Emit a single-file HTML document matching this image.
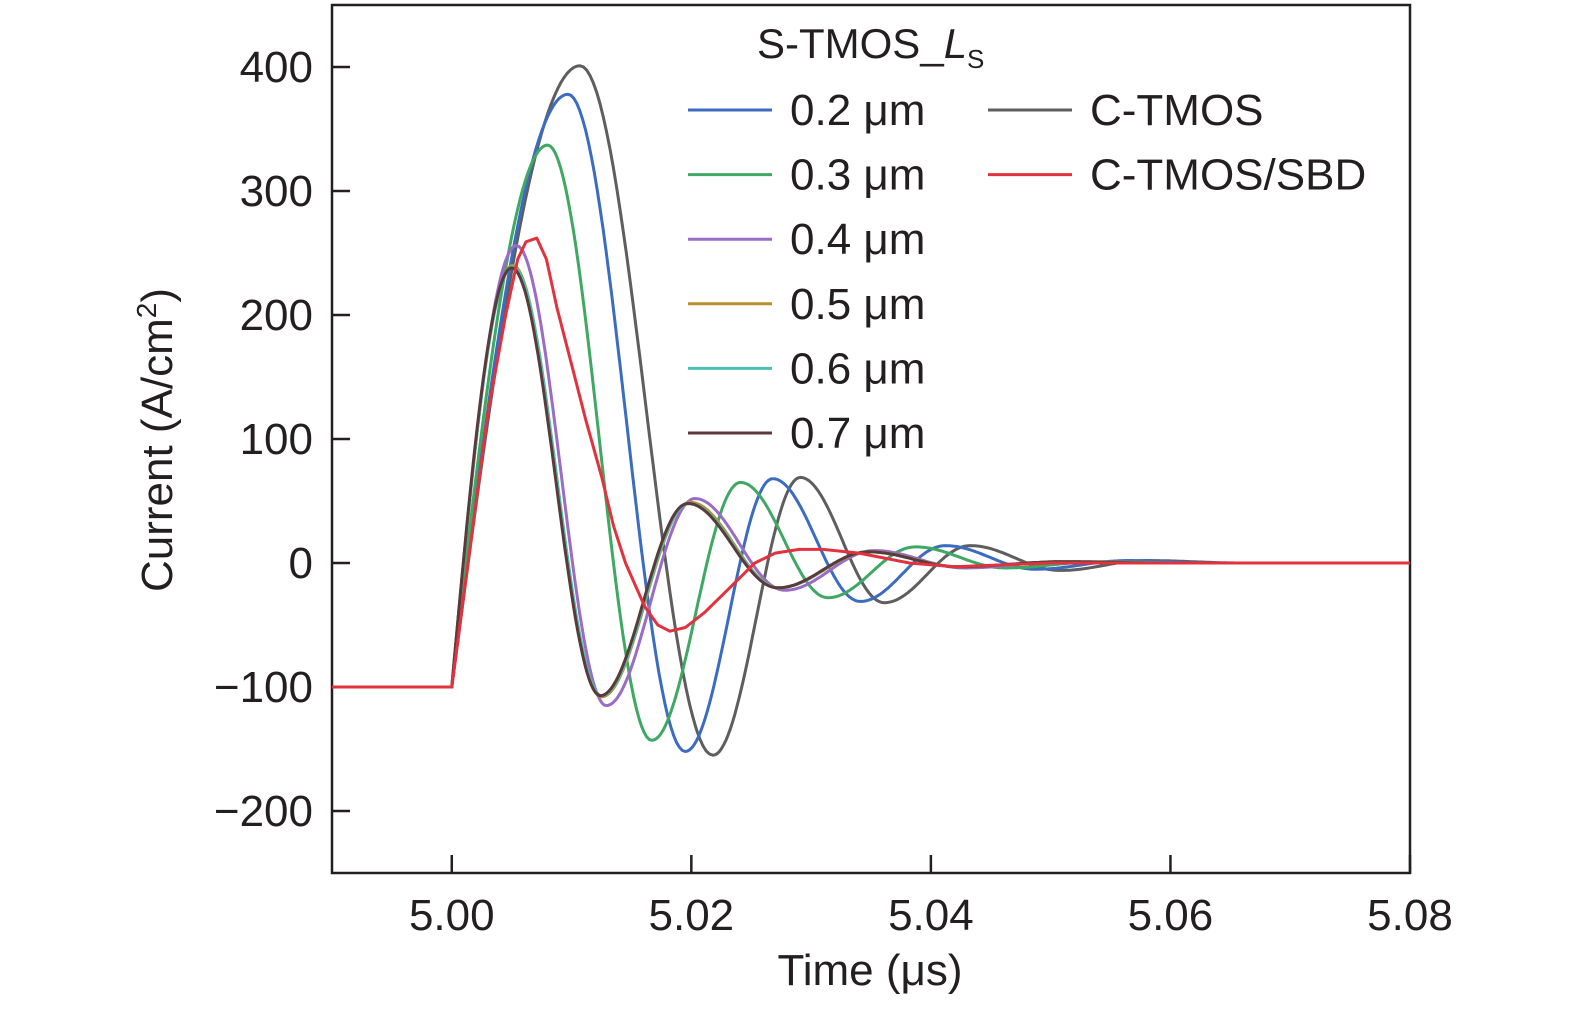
<!DOCTYPE html>
<html><head><meta charset="utf-8"><style>
body{margin:0;background:#fff}
svg text{font-family:"Liberation Sans",sans-serif;fill:#231f20}
</style></head><body>
<svg id="chart" width="1575" height="1012" xmlns="http://www.w3.org/2000/svg">
<rect x="332" y="5" width="1078" height="868" fill="none" stroke="#231f20" stroke-width="2.5"/>
<g id="ticks"></g>
<g id="series"></g>
<text x="870" y="985" font-size="44" text-anchor="middle">Time (μs)</text>
<text transform="translate(172,440) rotate(-90)" font-size="44" text-anchor="middle">Current (A/cm<tspan font-size="28" dy="-16">2</tspan><tspan dy="16">)</tspan></text>
<text x="757" y="58" font-size="42">S-TMOS_<tspan font-style="italic">L</tspan><tspan font-size="26" dy="10">S</tspan></text>
<g id="legend"></g>
</svg>
<script>
const xTicks=[5.00,5.02,5.04,5.06,5.08];
const yTicks=[400,300,200,100,0,-100,-200];
const seriesNames=["0.2 μm","0.3 μm","0.4 μm","0.5 μm","0.6 μm","0.7 μm","C-TMOS","C-TMOS/SBD"];
const seriesColors=["#3b6cc0","#3fa862","#9a6cc6","#b8902a","#4bbfb0","#5a3a3a","#5e5e5e","#e2323e"];
// extrema [t, value] per series (smooth curves)
const s02=[[5.0097,378],[5.0195,-152],[5.0268,68],[5.0341,-31],[5.0412,14],[5.0487,-5],[5.0565,2],[5.064,0]];
const s03=[[5.0080,337],[5.0167,-143],[5.0241,65],[5.0314,-28],[5.0387,13],[5.0462,-4],[5.054,1],[5.062,0]];
const s04=[[5.0054,256],[5.0129,-115],[5.0203,52],[5.0278,-22],[5.0353,10],[5.0428,-4],[5.051,1],[5.06,0]];
const s05=[[5.0051,240],[5.0125,-108],[5.0199,49],[5.0273,-20],[5.0349,9],[5.0424,-3],[5.051,1],[5.06,0]];
const s06=[[5.0051,239],[5.0125,-107],[5.0198,48],[5.0273,-20],[5.0348,9],[5.0423,-3],[5.051,1],[5.06,0]];
const s07=[[5.0050,238],[5.0124,-107],[5.0197,48],[5.0272,-20],[5.0348,9],[5.0423,-3],[5.051,1],[5.06,0]];
const sC=[[5.0107,401],[5.0218,-155],[5.0291,69],[5.0361,-32],[5.0433,14],[5.0508,-6],[5.058,2],[5.066,0]];
// red polyline points
const sSBD=[[4.99,-100],[5.0,-100],[5.0015,10],[5.003,120],[5.0045,200],[5.0055,245],[5.0062,259],[5.0071,262],[5.0079,245],[5.0088,205],[5.0100,160],[5.0112,115],[5.0125,70],[5.0135,30],[5.0145,0],[5.0161,-35],[5.0172,-50],[5.0182,-55],[5.0195,-52],[5.0211,-40],[5.0232,-20],[5.0253,0],[5.0270,8],[5.0290,11],[5.0310,11],[5.034,8],[5.0382,0],[5.042,-3],[5.05,0],[5.08,0]];
const X=t=>332+(t-4.99)/0.09*1078;
const Y=v=>563-v*1.24;
const NS="http://www.w3.org/2000/svg";
const tg=document.getElementById('ticks');
xTicks.forEach(t=>{
 const l=document.createElementNS(NS,'line');l.setAttribute('x1',X(t));l.setAttribute('x2',X(t));l.setAttribute('y1',873);l.setAttribute('y2',855);l.setAttribute('stroke','#231f20');l.setAttribute('stroke-width',2.5);
 
 
 tg.appendChild(l);
 const tx=document.createElementNS(NS,'text');tx.setAttribute('x',X(t));tx.setAttribute('y',930);tx.setAttribute('font-size',44);tx.setAttribute('text-anchor','middle');tx.textContent=t.toFixed(2);
 
 
 tg.appendChild(tx);
});
yTicks.forEach(v=>{
 const l=document.createElementNS(NS,'line');l.setAttribute('x1',332);l.setAttribute('x2',350);l.setAttribute('y1',Y(v));l.setAttribute('y2',Y(v));l.setAttribute('stroke','#231f20');l.setAttribute('stroke-width',2.5);
 
 
 tg.appendChild(l);
 const tx=document.createElementNS(NS,'text');tx.setAttribute('x',313);tx.setAttribute('y',Y(v)+15);tx.setAttribute('font-size',44);tx.setAttribute('text-anchor','end');tx.textContent=v<0?'−'+(-v):''+v;
 
 
 tg.appendChild(tx);
});
function smoothPath(ext){
 let d=`M${X(4.99)},${Y(-100)} L${X(5.0)},${Y(-100)}`;
 let prev=[5.0,-100];
 ext.forEach((p,i)=>{
  const N=40;
  for(let k=1;k<=N;k++){const u=k/N;
   const f=i===0?Math.sin(Math.PI/2*u):(1-Math.cos(Math.PI*u))/2;
   const t=prev[0]+(p[0]-prev[0])*u, v=prev[1]+(p[1]-prev[1])*f;
   d+=` L${X(t).toFixed(1)},${Y(v).toFixed(1)}`;}
  prev=p;
 });
 d+=` L${X(5.08)},${Y(0)}`;
 return d;
}
const sg=document.getElementById('series');
const allS=[sC,s02,s03,s04,s05,s06,s07];
const idx=[6,0,1,2,3,4,5];
allS.forEach((s,j)=>{
 const p=document.createElementNS(NS,'path');p.setAttribute('d',smoothPath(s));p.setAttribute('fill','none');p.setAttribute('stroke',seriesColors[idx[j]]);p.setAttribute('stroke-width',3);
 
 
 sg.appendChild(p);
});
{
 const p=document.createElementNS(NS,'path');p.setAttribute('d','M'+sSBD.map(q=>X(q[0]).toFixed(1)+','+Y(q[1]).toFixed(1)).join(' L'));p.setAttribute('fill','none');p.setAttribute('stroke',seriesColors[7]);p.setAttribute('stroke-width',3);p.setAttribute('stroke-linejoin','round');
 
 
 sg.appendChild(p);
}
const lg=document.getElementById('legend');
seriesNames.forEach((n,i)=>{
 const col=i<6?0:1, row=i<6?i:i-6;
 const lx=col?988:688, ly=110+row*64.6;
 const g=document.createElementNS(NS,'g');
 
 
 const l=document.createElementNS(NS,'line');l.setAttribute('x1',lx);l.setAttribute('x2',lx+84);l.setAttribute('y1',ly);l.setAttribute('y2',ly);l.setAttribute('stroke',seriesColors[i]);l.setAttribute('stroke-width',3);g.appendChild(l);
 const t=document.createElementNS(NS,'text');t.setAttribute('x',lx+102);t.setAttribute('y',ly+15);t.setAttribute('font-size',44);t.textContent=n;g.appendChild(t);
 lg.appendChild(g);
});
</script>
</body></html>
